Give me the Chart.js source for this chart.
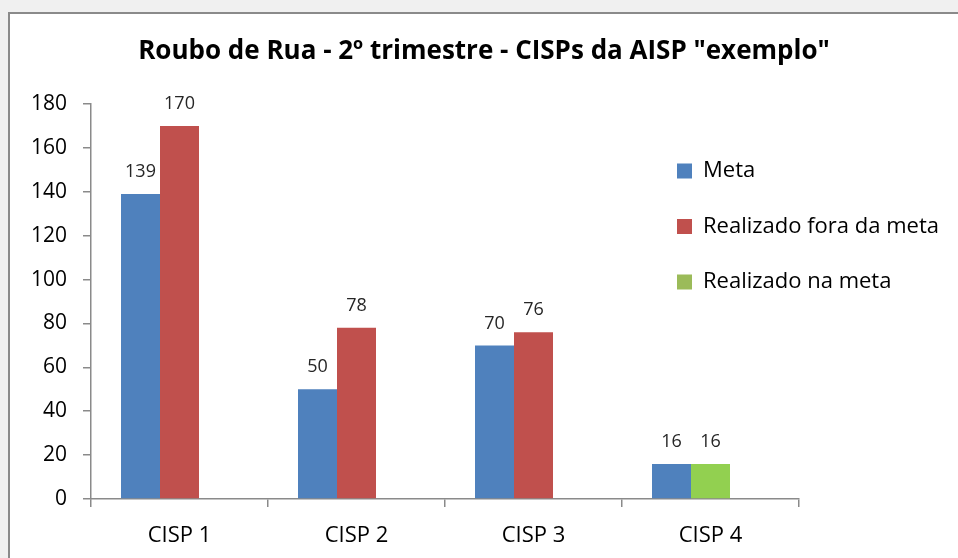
<!DOCTYPE html>
<html>
<head>
<meta charset="utf-8">
<script src="https://cdn.jsdelivr.net/npm/chart.js@4/dist/chart.umd.min.js"></script>
<style>
  html, body { margin: 0; padding: 0; background: #f0f0f0; overflow: hidden; }
  #frame {
    position: absolute; left: 8px; top: 12px; width: 960px; height: 560px;
    background: #fff; border-top: 2px solid #8a8a8a; border-left: 2px solid #8a8a8a;
  }
  #wrap { position: absolute; left: 0; top: 0; width: 948px; height: 544px; }
</style>
</head>
<body>
<div id="frame"><div id="wrap"><canvas id="roubo"></canvas></div></div>
<script>
var categorias = ['CISP 1', 'CISP 2', 'CISP 3', 'CISP 4'];
var meta = [139, 50, 70, 16];
var foraDaMeta = [170, 78, 76, null];
var naMeta = [null, null, null, 16];
var vazio = [null, null, null, null]; // third empty slot, as in the original sheet
var yTicks = [0, 20, 40, 60, 80, 100, 120, 140, 160, 180];

var corMeta = '#4f81bd';
var corFora = '#c0504d';
var corNaMeta = '#92d050';
var corLegendaNaMeta = '#9bbb59';

var fonte = '"Open Sans", "Noto Sans", sans-serif';

// value labels above the bars
var rotulos = {
    id: 'rotulos',
    afterDatasetsDraw: function (chart) {
        var ctx = chart.ctx;
        ctx.save();
        ctx.font = '18px ' + fonte;
        ctx.fillStyle = '#262626';
        ctx.textAlign = 'center';
        ctx.textBaseline = 'middle';
        chart.data.datasets.forEach(function (ds, i) {
            var m = chart.getDatasetMeta(i);
            m.data.forEach(function (bar, j) {
                var v = ds.data[j];
                if (v === null || v === undefined) return;
                ctx.fillText(String(v), bar.x, bar.y - 22);
            });
        });
        ctx.restore();
    }
};

// legend sits over the right part of the plot, like the Excel original
var legendaPos = {
    id: 'legendaPos',
    afterLayout: function (chart) {
        var lg = chart.legend;
        lg.left = 633.5;
        lg.right = 948;
        lg.top = 112.5;
        lg.bottom = 544;
        lg.width = lg.right - lg.left;
        lg.height = lg.bottom - lg.top;
    }
};

var grafico = new Chart(document.getElementById('roubo'), {
    type: 'bar',
    data: {
        labels: categorias,
        datasets: [
            { label: 'Meta', data: meta, backgroundColor: corMeta, stack: 'meta' },
            { label: 'Realizado fora da meta', data: foraDaMeta, backgroundColor: corFora, stack: 'real' },
            { label: 'Realizado na meta', data: naMeta, backgroundColor: corNaMeta, stack: 'real' },
            { label: '', data: vazio, backgroundColor: 'rgba(0,0,0,0)', stack: 'vazio' }
        ]
    },
    options: {
        responsive: true,
        maintainAspectRatio: false,
        animation: false,
        categoryPercentage: 0.661,
        barPercentage: 1,
        layout: { padding: { left: 0, right: 0, top: 0, bottom: 0 } },
        plugins: {
            title: {
                display: true,
                text: 'Roubo de Rua - 2º trimestre - CISPs da AISP "exemplo"',
                color: '#000',
                font: { family: fonte, size: 26, weight: 'bold' },
                padding: { top: 22.4, bottom: 36.4 }
            },
            legend: {
                position: 'right',
                align: 'start',
                maxWidth: 159,
                labels: {
                    color: '#000',
                    font: { family: fonte, size: 22 },
                    boxWidth: 15,
                    boxHeight: 15,
                    padding: 33.5,
                    filter: function (item) { return item.text !== ''; },
                    generateLabels: function (chart) {
                        var itens = Chart.defaults.plugins.legend.labels.generateLabels(chart);
                        itens.forEach(function (it) {
                            it.lineWidth = 0;
                            if (it.text === 'Realizado na meta') it.fillStyle = corLegendaNaMeta;
                        });
                        return itens;
                    }
                }
            },
            tooltip: { enabled: false }
        },
        scales: {
            x: {
                stacked: true,
                afterFit: function (s) { s.height = 59; },
                border: { color: '#8a8a8a', width: 1.5 },
                grid: { drawOnChartArea: false, color: '#8a8a8a', lineWidth: 1.5, tickLength: 8, offset: true },
                ticks: { color: '#000', font: { family: fonte, size: 22 }, padding: 16 }
            },
            y: {
                stacked: true,
                min: 0,
                max: 180,
                afterFit: function (s) { s.width = 81; },
                afterBuildTicks: function (s) { s.ticks = yTicks.map(function (v) { return { value: v }; }); },
                border: { color: '#8a8a8a', width: 1.5 },
                grid: { drawOnChartArea: false, color: '#8a8a8a', lineWidth: 1.5, tickLength: 8 },
                ticks: { color: '#000', font: { family: fonte, size: 21 }, padding: 16 }
            }
        }
    },
    plugins: [rotulos, legendaPos]
});
</script>
</body>
</html>
